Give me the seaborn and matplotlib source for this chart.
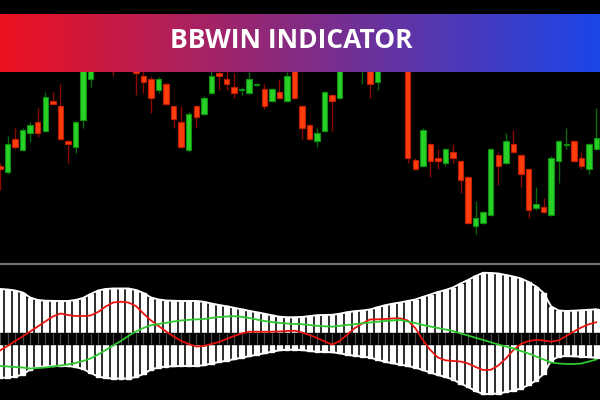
import numpy as np
import pandas as pd
import seaborn as sns
import matplotlib.pyplot as plt
from matplotlib.lines import Line2D

# candle OHLC (price units)
opens = [134, 128, 161, 150, 167, 178, 169, 199, 194, 159, 153, 180, 221, 240, 260, 250, 240, 250, 230, 224,
         221, 210, 216, 194, 178, 150, 194, 186, 207, 227, 221, 213, 210.3, 207, 215.2, 211, 199, 208, 199, 232,
         194, 175, 159, 169, 205, 202, 255, 245, 240, 238, 218, 260, 240, 258, 234, 140, 134, 156, 142, 137,
         148, 139, 123, 74, 77, 85, 145, 137, 156, 145, 131, 92, 93, 85, 139, 155, 159, 142, 131, 151]
highs = [137, 164, 172, 172, 178, 192, 208, 208, 216, 160, 179, 232, 250, 260, 265, 255, 258, 255, 232, 240,
         224, 223, 218, 194, 194, 188, 195, 204, 240, 238, 230, 227, 213, 228, 217, 216, 212, 221, 228, 240,
         195, 176, 172, 209, 206, 245, 260, 265, 255, 245, 242, 265, 260, 262, 240, 142, 172, 157, 151, 152,
         156, 140, 124, 99, 89, 152, 148, 167, 170, 146, 132, 113, 102, 144, 160, 172, 160, 148, 157, 192]
lows = [110, 126, 151, 149, 158, 163, 168, 196, 160, 137, 147, 172, 213, 238, 242, 224, 236, 230, 205, 207,
        187, 207, 195, 172, 152, 148, 172, 185, 206, 210, 210, 202, 205, 206, 214, 191, 198, 202, 198, 201,
        161, 160, 153, 168, 169, 201, 238, 242, 216, 202, 210, 242, 238, 234, 137, 130, 133, 123, 131, 134,
        137, 107, 76, 66, 76, 84, 115, 136, 147, 113, 82, 90, 87, 84, 117, 151, 138, 131, 126, 150]
closes = [131, 156, 153, 170, 175, 167, 203, 196, 161, 156, 178, 230, 242, 255, 245, 238, 255, 234, 227, 218,
          202, 221, 196, 181, 153, 186, 183, 202, 224, 224, 216, 207, 211, 221, 216, 194, 211, 202, 224, 202,
          172, 161, 167, 208, 199, 234, 240, 260, 250, 216, 235, 245, 255, 242, 142, 131, 170, 139, 139, 151,
          142, 120, 77, 82, 88, 151, 134, 159, 148, 126, 90, 96, 88, 142, 159, 156, 139, 134, 156, 162]

# BBWIN indicator: band width and the two signal lines
band_width = [4.45, 4.40, 4.30, 4.10, 3.60, 3.35, 3.28, 3.26, 3.25, 3.25, 3.35, 3.55, 3.95, 4.30, 4.45, 4.50,
              4.50, 4.50, 4.35, 4.05, 3.60, 3.40, 3.30, 3.27, 3.25, 3.25, 3.25, 3.17, 3.00, 2.85, 2.72, 2.57,
              2.42, 2.27, 2.12, 1.98, 1.82, 1.68, 1.62, 1.62, 1.65, 1.74, 1.83, 1.85, 1.87, 1.98, 2.13, 2.23,
              2.30, 2.40, 2.62, 2.82, 2.98, 3.10, 3.25, 3.40, 3.65, 3.90, 4.15, 4.35, 4.60, 5.00, 5.35, 5.75,
              6.07, 6.05, 6.00, 5.85, 5.70, 5.50, 5.15, 4.70, 4.05, 2.70, 2.30, 2.25, 2.28, 2.32, 2.37, 2.42]
red_line = [-1.70, -1.25, -0.75, -0.30, 0.20, 0.70, 1.20, 1.70, 2.00, 1.85, 1.75, 1.75, 1.80, 2.15, 2.70, 3.10,
            3.18, 3.10, 2.75, 2.00, 1.30, 0.75, 0.20, -0.30, -0.75, -1.05, -1.30, -1.25, -1.05, -0.85, -0.55, -0.25,
            0.00, 0.18, 0.18, 0.18, 0.18, 0.20, 0.25, 0.28, 0.10, -0.15, -0.45, -0.80, -1.10, -0.75, -0.10, 0.55,
            1.00, 1.40, 1.42, 1.45, 1.50, 1.52, 1.30, 0.55, -0.65, -1.65, -2.40, -2.68, -2.75, -2.80, -3.00, -3.35,
            -3.65, -3.63, -3.20, -2.50, -1.65, -1.05, -0.75, -0.65, -0.70, -0.82, -0.68, -0.25, 0.20, 0.60, 0.93, 1.13]
green_line = [-3.25, -3.30, -3.35, -3.40, -3.50, -3.45, -3.40, -3.30, -3.20, -3.10, -2.95, -2.75, -2.50, -2.10, -1.65, -1.20,
              -0.75, -0.25, 0.20, 0.55, 0.83, 0.95, 1.07, 1.20, 1.30, 1.37, 1.41, 1.45, 1.55, 1.65, 1.70, 1.73,
              1.67, 1.55, 1.40, 1.25, 1.15, 1.05, 1.00, 0.95, 0.93, 0.85, 0.77, 0.72, 0.68, 0.77, 0.85, 0.93,
              1.02, 1.10, 1.17, 1.25, 1.30, 1.35, 1.20, 1.05, 0.85, 0.70, 0.55, 0.40, 0.25, 0.00, -0.20, -0.43,
              -0.65, -0.87, -1.10, -1.30, -1.50, -1.75, -2.00, -2.30, -2.60, -2.90, -3.00, -3.05, -3.05, -3.00, -2.80, -2.60]

title = "BBWIN INDICATOR"

sns.set_theme(style="dark")
plt.rcParams['font.family'] = ['Open Sans', 'DejaVu Sans']

df = pd.DataFrame({'open': opens, 'high': highs, 'low': lows, 'close': closes})
df['bar'] = np.arange(len(df))
df['up'] = df['close'] >= df['open']

ind = pd.DataFrame({'bar': np.arange(len(band_width)), 'width': band_width,
                    'red': red_line, 'green': green_line})

fig = plt.figure(figsize=(6, 4), dpi=100, facecolor='black')

# price panel
ax = fig.add_axes([0, 0.3425, 1, 0.6575])
ax.set_facecolor('black')
for up, sub in df.groupby('up'):
    body_c = '#27d127' if up else '#ff3c0c'
    edge_c = '#0e8f0e' if up else '#c21d00'
    wick_c = '#0a6a0a' if up else '#8a0a00'
    ax.vlines(sub['bar'], sub['low'], sub['high'], color=wick_c, lw=1.0, zorder=1)
    lo = sub[['open', 'close']].min(axis=1)
    hi = sub[['open', 'close']].max(axis=1)
    ax.bar(sub['bar'], (hi - lo).clip(lower=0.8), bottom=lo, width=0.72,
           color=body_c, edgecolor=edge_c, linewidth=0.8, zorder=2)
ax.set_xlim(0, 79.47)
ax.set_ylim(37, 300)
ax.axis('off')

# indicator panel
ax2 = fig.add_axes([0, 0, 1, 0.335])
ax2.set_facecolor('black')
ax2.bar(ind['bar'], 2 * ind['width'], bottom=-ind['width'], width=0.6, color='white', zorder=1)
ax2.plot(ind['bar'], ind['width'], color='white', lw=1.4, zorder=2)
ax2.plot(ind['bar'], -ind['width'], color='white', lw=1.4, zorder=2)
ax2.axhspan(-1.05, 0.05, color='black', zorder=3)
ax2.vlines(ind['bar'], -1.05, 0.05, color='#4a4a4a', lw=0.9, zorder=3)
sns.lineplot(data=ind, x='bar', y='red', color='#e8120e', lw=1.3, ax=ax2, zorder=4)
sns.lineplot(data=ind, x='bar', y='green', color='#2ec82e', lw=1.3, ax=ax2, zorder=4)
ax2.set_xlim(0, 79.47)
ax2.set_ylim(-6.65, 6.75)
ax2.axis('off')

fig.add_artist(Line2D([0, 1], [0.34, 0.34], color='#707070', lw=1.6))

# title banner
bax = fig.add_axes([0, 0.82, 1, 0.145])
grad = np.linspace(0, 1, 256)[None, :]
cmap = sns.blend_palette(['#ee1120', '#1b46e8'], as_cmap=True)
bax.imshow(grad, aspect='auto', cmap=cmap, extent=[0, 1, 0, 1])
bax.text(0.485, 0.55, title, color='white', fontsize=19, fontweight='bold',
         ha='center', va='center', transform=bax.transAxes)
bax.set_xlim(0, 1)
bax.set_ylim(0, 1)
bax.axis('off')

fig.savefig('out.png', dpi=100, facecolor='black')
